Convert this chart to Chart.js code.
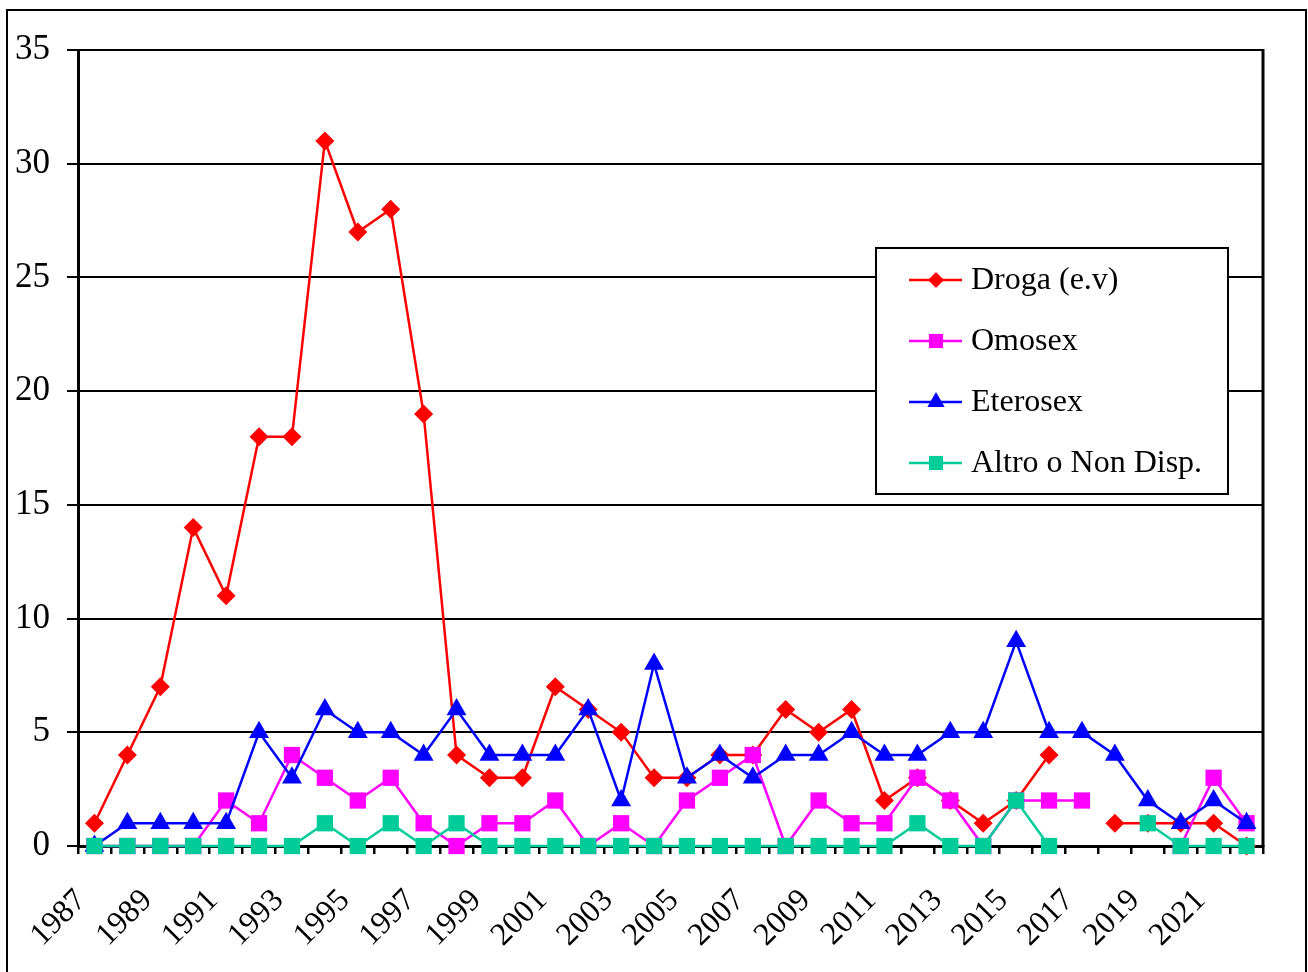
<!DOCTYPE html>
<html>
<head>
<meta charset="utf-8">
<script src="https://cdn.jsdelivr.net/npm/chart.js@4/dist/chart.umd.min.js"></script>
<style>
  html, body { margin: 0; padding: 0; background: #ffffff; }
  #wrap { position: relative; width: 1308px; height: 972px; }
</style>
</head>
<body>
<div id="wrap"><canvas id="c" width="1308" height="972"></canvas></div>
<script>
// Years on the category axis
const years = ['1987','1988','1989','1990','1991','1992','1993','1994','1995','1996',
               '1997','1998','1999','2000','2001','2002','2003','2004','2005','2006',
               '2007','2008','2009','2010','2011','2012','2013','2014','2015','2016',
               '2017','2018','2019','2020','2021','2022'];

// Series names
const seriesNames = ['Droga (e.v)', 'Omosex', 'Eterosex', 'Altro o Non Disp.'];

// Cases per year for each transmission route (null = no value)
const droga    = [1, 4, 7, 14, 11, 18, 18, 31, 27, 28, 19, 4, 3, 3, 7, 6, 5, 3, 3, 4,
                  4, 6, 5, 6, 2, 3, 2, 1, 2, 4, null, 1, 1, 1, 1, 0];
const omosex   = [0, 0, 0, 0, 2, 1, 4, 3, 2, 3, 1, 0, 1, 1, 2, 0, 1, 0, 2, 3,
                  4, 0, 2, 1, 1, 3, 2, 0, 2, 2, 2, null, null, 0, 3, 1];
const eterosex = [0, 1, 1, 1, 1, 5, 3, 6, 5, 5, 4, 6, 4, 4, 4, 6, 2, 8, 3, 4,
                  3, 4, 4, 5, 4, 4, 5, 5, 9, 5, 5, 4, 2, 1, 2, 1];
const altro    = [0, 0, 0, 0, 0, 0, 0, 1, 0, 1, 0, 1, 0, 0, 0, 0, 0, 0, 0, 0,
                  0, 0, 0, 0, 0, 1, 0, 0, 2, 0, null, null, 1, 0, 0, 0];

// Value axis ticks
const yTicks = [0, 5, 10, 15, 20, 25, 30, 35];

const FONT = '"Liberation Serif", "Times New Roman", Times, serif';

const styles = [
  { color: '#FF0000', point: 'rectRot',  radius: 9.5,  legendRadius: 8 },
  { color: '#FF00FF', point: 'rect',     radius: 11.5, legendRadius: 10 },
  { color: '#0000FF', point: 'triangle', radius: 11.5, legendRadius: 10 },
  { color: '#00CC99', point: 'rect',     radius: 11.5, legendRadius: 10 }
];
const seriesData = [droga, omosex, eterosex, altro];

// Later series are painted on top of earlier ones
const datasets = seriesData.map((d, i) => ({
  label: seriesNames[i],
  data: d,
  borderColor: styles[i].color,
  backgroundColor: styles[i].color,
  pointStyle: styles[i].point,
  pointRadius: styles[i].radius,
  pointHoverRadius: styles[i].radius,
  pointBorderWidth: 0,
  borderWidth: 2.5,
  tension: 0,
  spanGaps: false,
  clip: false,
  order: seriesData.length - i
}));

// Plot frame, outer border and the boxed legend inside the plot
const decorations = {
  id: 'decorations',
  beforeDatasetsDraw(chart) {
    const { ctx, chartArea: a } = chart;
    ctx.save();
    ctx.strokeStyle = '#000';
    ctx.lineWidth = 3;
    ctx.beginPath();
    ctx.moveTo(a.right, a.top - 1);
    ctx.lineTo(a.right, a.bottom + 1);
    ctx.stroke();
    ctx.restore();
  },
  afterDraw(chart) {
    const { ctx } = chart;
    ctx.save();
    // outer border
    ctx.strokeStyle = '#000';
    ctx.lineWidth = 2;
    ctx.strokeRect(7, 10, 1299, 990);

    // legend box
    const bx = 876, by = 248, bw = 352, bh = 246;
    ctx.fillStyle = '#fff';
    ctx.fillRect(bx, by, bw, bh);
    ctx.lineWidth = 2;
    ctx.strokeRect(bx, by, bw, bh);

    const rows = [280, 341, 402, 463];
    ctx.font = '32px ' + FONT;
    ctx.textBaseline = 'middle';
    ctx.textAlign = 'left';
    seriesNames.forEach((name, i) => {
      const y = rows[i];
      ctx.strokeStyle = styles[i].color;
      ctx.lineWidth = 2.5;
      ctx.beginPath();
      ctx.moveTo(909, y);
      ctx.lineTo(962, y);
      ctx.stroke();
      ctx.fillStyle = styles[i].color;
      Chart.helpers.drawPoint(ctx, {
        pointStyle: styles[i].point,
        radius: styles[i].legendRadius,
        borderWidth: 0,
        rotation: 0
      }, 936, y);
      ctx.fillStyle = '#000';
      ctx.fillText(name, 971, y + 1);
    });
    ctx.restore();
  }
};

new Chart(document.getElementById('c'), {
  type: 'line',
  data: { labels: years, datasets },
  options: {
    responsive: false,
    animation: false,
    devicePixelRatio: 1,
    layout: { padding: { left: 0, top: 50, right: 45, bottom: 0 } },
    plugins: {
      legend: { display: false },
      tooltip: { enabled: false }
    },
    scales: {
      x: {
        type: 'category',
        offset: true,
        grid: {
          offset: true,
          drawOnChartArea: false,
          color: '#000',
          lineWidth: 2.5,
          tickLength: 8
        },
        border: { display: true, color: '#000', width: 3 },
        ticks: {
          autoSkip: false,
          minRotation: 45,
          maxRotation: 45,
          color: '#000',
          padding: 28,
          labelOffset: -13,
          font: { family: FONT, size: 32 },
          callback: (v, i) => (i % 2 === 0 ? years[i] : '')
        },
        afterFit: (s) => { s.height = 126; }
      },
      y: {
        min: yTicks[0],
        max: yTicks[yTicks.length - 1],
        afterBuildTicks: (s) => { s.ticks = yTicks.map(v => ({ value: v })); },
        grid: {
          color: '#000',
          lineWidth: 2,
          tickLength: 11
        },
        border: { display: true, color: '#000', width: 3 },
        ticks: {
          color: '#000',
          padding: 17,
          font: { family: FONT, size: 35 }
        },
        afterFit: (s) => { s.width = 78; }
      }
    }
  },
  plugins: [decorations]
});
</script>
</body>
</html>
